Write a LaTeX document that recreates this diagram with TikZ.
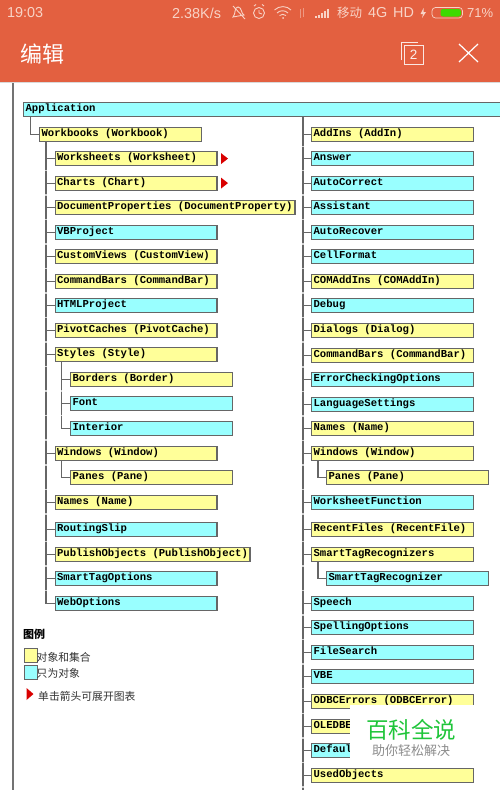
\documentclass[tikz,border=0pt]{standalone}
\usepackage{fontspec}
\usetikzlibrary{calc}
\setmainfont{Liberation Sans}
\newfontfamily\cjk{Noto Sans CJK SC}
\newfontfamily\boxfont{Liberation Mono}
\definecolor{hdr}{HTML}{E36040}
\definecolor{hdrtxt}{HTML}{F8D3C6}
\definecolor{yb}{HTML}{FFFF99}
\definecolor{cb}{HTML}{99FFFF}
\definecolor{edge}{HTML}{666666}
\definecolor{wmgreen}{HTML}{1FC53A}
\tikzset{
  boxbase/.style={draw=edge,line width=1.2pt,anchor=north west,inner xsep=2pt,inner ysep=2pt,
    text height=10pt,text depth=0pt,align=left,font=\boxfont\bfseries\fontsize{10.6}{12}\selectfont,text=black},
  yel/.style={boxbase,fill=yb},
  cya/.style={boxbase,fill=cb},
  conn/.style={draw=edge,line width=1.2pt},
  gapmark/.style={draw=white,line width=1.2pt,opacity=0.7},
  redarrow/.style={fill=red!85!black,draw=none},
  status/.style={text=hdrtxt,font=\fontsize{14.4}{16}\selectfont,inner sep=0pt},
  icon/.style={draw=hdrtxt,line width=0.9pt,fill=none},
  legendtxt/.style={font=\cjk\fontsize{10.8}{12}\selectfont,text=black!80,inner sep=0pt,anchor=west},
}
\newcommand{\bx}[6]{\node[#2,text width=#5pt-4pt-1.2pt] (#1) at (#3,#4) {\raisebox{2.8pt}[10pt][0pt]{\spaceskip=6.36pt\relax #6}};}
\begin{document}
\begin{tikzpicture}[x=1pt,y=-1pt]
\clip (0,0) rectangle (500,790);
\fill[white] (0,0) rectangle (500,790);
% header
\fill[hdr] (0,0) rectangle (500,82);
\fill[black!15] (0,82) rectangle (500,83);
\node[status,anchor=west] (clock) at (7,13) {19:03};
\node[status,anchor=west] (speed) at (172,13) {2.38K/s};
\node[status,anchor=west,font=\cjk\fontsize{12.5}{14}\selectfont] (carrier) at (337,13) {移动};
\node[status,anchor=west] (net) at (368,13) {4G};
\node[status,anchor=west] (hd) at (393,13) {HD};
\node[status,anchor=west,font=\fontsize{13}{14}\selectfont] (pct) at (467,13) {71\%};
% status icons
\draw[icon] (233,17) .. controls (236,14) and (234,7) .. (238,7) .. controls (242,7) and (241,14) .. (244,15) -- cycle;
\draw[icon] (233,6) -- (245,19);
\draw[icon] (259,13) circle (5.5);
\draw[icon] (259,10) -- (259,13) -- (262,14);
\draw[icon] (254,6) -- (256,4.5) (264,6) -- (262,4.5);
\draw[icon] (274.5,10) .. controls (279,5.5) and (287,5.5) .. (291,10);
\draw[icon] (277,13) .. controls (280,10) and (285,10) .. (288,13);
\draw[icon] (279.5,15.5) .. controls (281.5,14) and (284,14) .. (286,15.5);
\fill[hdrtxt] (283,18) circle (1);
\draw[draw=hdrtxt!50!hdr,line width=1pt] (300,9) -- (300,18) (303,8) -- (303,17);
\foreach \i/\h in {0/2,1/3.5,2/5,3/7,4/9} \fill[hdrtxt] (315+\i*3,18) rectangle +(2,-\h);
\fill[hdrtxt] (423.5,8) -- (420.5,14) -- (423,14) -- (422,18) -- (426,12) -- (423.5,12) -- cycle;
\draw[icon,line width=0.7pt,rounded corners=3.5pt] (432,7.5) rectangle (462.5,18);
\fill[green!60!black!60!yellow!60!green,rounded corners=2.5pt] (440.5,9) rectangle (461,16.5);
% title bar
\node[font=\cjk\fontsize{22}{24}\selectfont,text=white,inner sep=0pt,anchor=west] (title) at (20,54) {编辑};
\draw[white!85!hdr,line width=1pt] (401,60) -- (401,42) -- (418,42);
\draw[white!85!hdr,line width=1pt] (404,45.5) rectangle (423,64);
\node[font=\fontsize{13.5}{14}\selectfont,text=white!90!hdr,inner sep=0pt] (count) at (413.5,55) {2};
\draw[white,line width=1.2pt] (459,44) -- (478,62) (478,44) -- (459,62);
% page edge
\draw[draw=black!55,line width=1.7pt] (13,83) -- (13,790);
% boxes, left column
\bx{app}{cya}{23}{102}{500}{Application}
\bx{wb}{yel}{39}{127}{163}{Workbooks (Workbook)}
\bx{ws}{yel}{54.5}{151}{163}{Worksheets (Worksheet)}
\bx{ch}{yel}{54.5}{175.5}{163}{Charts (Chart)}
\bx{dp}{yel}{54.5}{200}{241}{DocumentProperties (DocumentProperty)}
\bx{vb}{cya}{54.5}{224.5}{163}{VBProject}
\bx{cv}{yel}{54.5}{249}{163}{CustomViews (CustomView)}
\bx{cbl}{yel}{54.5}{273.5}{163}{CommandBars (CommandBar)}
\bx{ht}{cya}{54.5}{298}{163}{HTMLProject}
\bx{pc}{yel}{54.5}{322.5}{163}{PivotCaches (PivotCache)}
\bx{st}{yel}{54.5}{347}{163}{Styles (Style)}
\bx{bo}{yel}{70}{371.5}{163}{Borders (Border)}
\bx{fo}{cya}{70}{396}{163}{Font}
\bx{it}{cya}{70}{420.5}{163}{Interior}
\bx{wi}{yel}{54.5}{445.5}{163}{Windows (Window)}
\bx{pa}{yel}{70}{470}{163}{Panes (Pane)}
\bx{na}{yel}{54.5}{494.5}{163}{Names (Name)}
\bx{rs}{cya}{54.5}{522}{163}{RoutingSlip}
\bx{po}{yel}{54.5}{546.5}{196}{PublishObjects (PublishObject)}
\bx{so}{cya}{54.5}{571}{163}{SmartTagOptions}
\bx{wo}{cya}{54.5}{595.5}{163}{WebOptions}
% boxes, right column
\bx{ai}{yel}{311}{127}{163}{AddIns (AddIn)}
\bx{an}{cya}{311}{151}{163}{Answer}
\bx{ac}{cya}{311}{175.5}{163}{AutoCorrect}
\bx{as}{cya}{311}{200}{163}{Assistant}
\bx{ar}{cya}{311}{224.5}{163}{AutoRecover}
\bx{cf}{cya}{311}{249}{163}{CellFormat}
\bx{co}{yel}{311}{273.5}{163}{COMAddIns (COMAddIn)}
\bx{de}{cya}{311}{298}{163}{Debug}
\bx{di}{yel}{311}{322.5}{163}{Dialogs (Dialog)}
\bx{cbr}{yel}{311}{347.5}{163}{CommandBars (CommandBar)}
\bx{ec}{cya}{311}{372}{163}{ErrorCheckingOptions}
\bx{ls}{cya}{311}{396.5}{163}{LanguageSettings}
\bx{nr}{yel}{311}{421}{163}{Names (Name)}
\bx{wr}{yel}{311}{445.5}{163}{Windows (Window)}
\bx{pr}{yel}{326}{470}{163}{Panes (Pane)}
\bx{wf}{cya}{311}{494.5}{163}{WorksheetFunction}
\bx{rf}{yel}{311}{522}{163}{RecentFiles (RecentFile)}
\bx{sr}{yel}{311}{546.5}{163}{SmartTagRecognizers}
\bx{sg}{cya}{326}{571}{163}{SmartTagRecognizer}
\bx{sp}{cya}{311}{595.5}{163}{Speech}
\bx{sl}{cya}{311}{620}{163}{SpellingOptions}
\bx{fs}{cya}{311}{644.5}{163}{FileSearch}
\bx{vbe}{cya}{311}{669}{163}{VBE}
\bx{od}{yel}{311}{694}{163}{ODBCErrors (ODBCError)}
\bx{ol}{yel}{311}{718.5}{163}{OLEDBE}
\bx{df}{cya}{311}{743}{163}{Defaul}
\bx{uo}{yel}{311}{767.5}{163}{UsedObjects}
% trunks
\coordinate (tl) at ($(wb.south west)+(7,0)$);
\coordinate (tr) at ($(app.south west)+(280,0)$);
\coordinate (trend) at (tr |- 0,790);
\draw[conn] (app.south west) ++(7.5,0) |- (wb.west);
\draw[conn] (tl) |- (wo.west);
\draw[conn] (tr) -- (trend);
\coordinate (ts) at ($(st.south west)+(7,0)$);
\draw[conn] (ts) |- (it.west);
\coordinate (tw) at ($(wi.south west)+(7,0)$);
\draw[conn] (tw) |- (pa.west);
\coordinate (twr) at ($(wr.south west)+(7,0)$);
\draw[conn] (twr) |- (pr.west);
\coordinate (tsr) at ($(sr.south west)+(7,0)$);
\draw[conn] (tsr) |- (sg.west);
% small breaks in the trunks
\foreach \n in {ws,ch,dp,vb,cv,cbl,ht,pc,st,bo,fo,it,wi,pa,na,rs,po,so}
  \draw[gapmark] ($(\n.south -| tl)+(0,3.5)$) -- ++(0,1.3);
\foreach \n in {ai,an,ac,as,ar,cf,co,de,di,cbr,ec,ls,nr,wr,pr,wf,rf,sr,sg,sp,sl,fs,vbe,od,ol,df,uo}
  \draw[gapmark] ($(\n.south -| tr)+(0,3.5)$) -- ++(0,1.3);
\foreach \n in {bo,fo}
  \draw[gapmark] ($(\n.south -| ts)+(0,3.5)$) -- ++(0,1.3);
% branches
\foreach \n in {ws,ch,dp,vb,cv,cbl,ht,pc,st,wi,na,rs,po,so}
  \draw[conn] (\n.west -| tl) -- (\n.west);
\foreach \n in {bo,fo}
  \draw[conn] (\n.west -| ts) -- (\n.west);
\foreach \n in {ai,an,ac,as,ar,cf,co,de,di,cbr,ec,ls,nr,wr,wf,rf,sr,sp,sl,fs,vbe,od,ol,df,uo}
  \draw[conn] (\n.west -| tr) -- (\n.west);
% red arrows
\fill[redarrow] ($(ws.east)+(3.5,-5.5)$) -- ($(ws.east)+(10.5,0)$) -- ($(ws.east)+(3.5,5.5)$) -- cycle;
\fill[redarrow] ($(ch.east)+(3.5,-5.5)$) -- ($(ch.east)+(10.5,0)$) -- ($(ch.east)+(3.5,5.5)$) -- cycle;
% legend
\node[font=\cjk\bfseries\fontsize{11}{12}\selectfont,inner sep=0pt,anchor=west] (lt) at (23,634) {图例};
\node[draw=edge,line width=1pt,fill=yb,minimum width=13pt,minimum height=14pt,inner sep=0pt,anchor=north west] (ly) at (23.5,648.3) {};
\node[legendtxt] (lyt) at (36.5,657.5) {对象和集合};
\node[draw=edge,line width=1pt,fill=cb,minimum width=13pt,minimum height=14pt,inner sep=0pt,anchor=north west] (lc) at (23.5,664.5) {};
\node[legendtxt] (lct) at (36.5,673.5) {只为对象};
\fill[redarrow] (26.5,688) -- (33.5,694) -- (26.5,700) -- cycle;
\node[legendtxt] (lat) at (38,696) {单击箭头可展开图表};
% watermark
\fill[white] (350,705) rectangle (500,758);
\node[font=\cjk\fontsize{22.5}{24}\selectfont,text=wmgreen,inner sep=0pt] (wm) at (411,729.5) {百科全说};
\node[font=\cjk\fontsize{13}{14}\selectfont,text=black!45,inner sep=0pt] (wm2) at (411,751) {助你轻松解决};
\end{tikzpicture}
\end{document}
